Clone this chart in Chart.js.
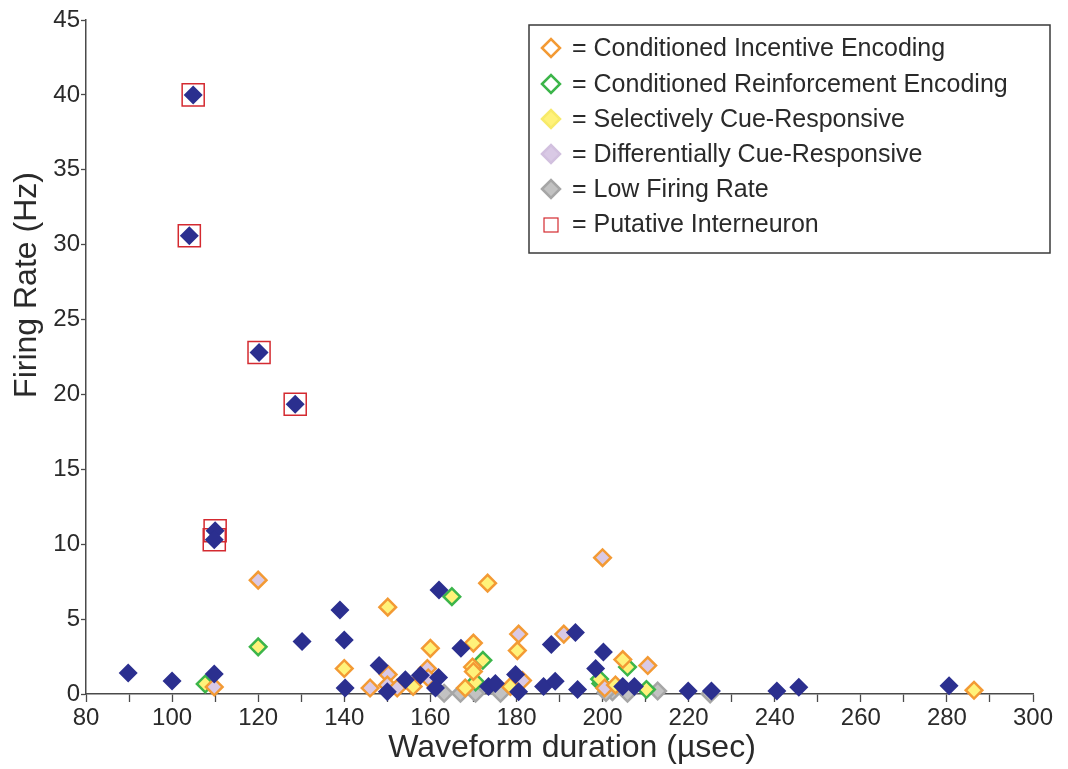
<!DOCTYPE html>
<html>
<head>
<meta charset="utf-8">
<script src="https://cdn.jsdelivr.net/npm/chart.js@4.4.1/dist/chart.umd.min.js"></script>
<style>
  html, body { margin: 0; padding: 0; background: #ffffff; }
  #wrap { width: 1068px; height: 769px; position: relative; }
</style>
</head>
<body>
<div id="wrap"><canvas id="c" width="1068" height="769"></canvas></div>
<script>
// ---- Data (waveform duration in µsec, firing rate in Hz) ----
const xTickValues = [80, 100, 120, 140, 160, 180, 200, 220, 240, 260, 280, 300];
const yTickValues = [0, 5, 10, 15, 20, 25, 30, 35, 40, 45];

// unclassified neurons (navy filled diamonds)
const otherX = [104.9, 104.0, 120.2, 128.6, 110.0, 109.8, 89.8, 100.0, 109.8, 130.2, 139.0, 140.0, 140.2, 148.1, 150.0, 154.2, 157.7, 161.9, 161.2, 162.0, 167.1, 173.5, 175.1, 179.8, 180.5, 186.3, 188.1, 189.0, 193.7, 194.2, 198.4, 200.2, 204.7, 207.4, 219.9, 225.3, 240.5, 245.6, 280.5];
const otherY = [40.0, 30.6, 22.8, 19.35, 10.9, 10.3, 1.4, 0.87, 1.33, 3.5, 5.6, 3.6, 0.4, 1.9, 0.15, 0.95, 1.25, 1.1, 0.4, 6.95, 3.05, 0.5, 0.7, 1.3, 0.15, 0.5, 3.3, 0.85, 4.1, 0.3, 1.7, 2.8, 0.5, 0.5, 0.2, 0.2, 0.2, 0.45, 0.55];

// conditioned incentive encoding (orange outline) + selectively cue-responsive (yellow fill)
const ciSelX = [150.1, 173.3, 140.0, 160.0, 156.0, 170.0, 180.2, 169.8, 170.0, 168.1, 178.6, 204.7, 203.0, 286.3];
const ciSelY = [5.8, 7.4, 1.7, 3.05, 0.5, 3.4, 2.9, 1.8, 1.5, 0.4, 0.5, 2.3, 0.6, 0.25];

// conditioned incentive encoding (orange outline) + differentially cue-responsive (lavender fill)
const ciDiffX = [120.0, 109.8, 146.0, 150.2, 150.0, 152.3, 159.3, 159.5, 180.5, 181.4, 191.0, 200.0, 210.5, 200.5];
const ciDiffY = [7.6, 0.47, 0.4, 1.3, 0.6, 0.4, 1.7, 1.07, 4.0, 0.9, 4.0, 9.1, 1.9, 0.4];

// conditioned reinforcement encoding (green outline) + selectively cue-responsive (yellow fill)
const crSelX = [107.7, 120.0, 165.0, 172.2, 170.5, 205.8, 210.2, 199.3];
const crSelY = [0.67, 3.15, 6.5, 2.25, 0.8, 1.8, 0.3, 1.0];

// conditioned reinforcement encoding (green outline) + differentially cue-responsive (lavender fill)
const crDiffX = [199.6];
const crDiffY = [0.7];

// low firing rate (grey)
const lowX = [163.2, 167.0, 170.5, 176.3, 202.3, 205.8, 212.8, 225.0, 200.8];
const lowY = [0.05, 0.05, 0.05, 0.05, 0.15, 0.05, 0.2, 0.0, 0.1];

// putative interneurons (red squares)
const interX = [104.9, 104.0, 120.2, 128.6, 110.0, 109.8];
const interY = [40.0, 30.6, 22.8, 19.35, 10.9, 10.3];

const legendLabels = [
  '= Conditioned Incentive Encoding',
  '= Conditioned Reinforcement Encoding',
  '= Selectively Cue-Responsive',
  '= Differentially Cue-Responsive',
  '= Low Firing Rate',
  '= Putative Interneuron'
];
const xTitle = 'Waveform duration (µsec)';
const yTitle = 'Firing Rate (Hz)';

// ---- Styles ----
const NAVY = '#2b2f8f';
const ORANGE = '#f39a34';
const GREEN = '#3cb54a';
const YELLOW = '#fff27a';
const LAVENDER = '#d9c9e5';
const GREY_FILL = '#c2c2c2';
const GREY_EDGE = '#a6a6a6';
const RED = '#d42a30';
const TEXT = '#2a2a2a';
const AXIS = '#4a4a4a';
const FONT = '"Liberation Sans", Arial, Helvetica, sans-serif';

function pts(xs, ys) { return xs.map((x, i) => ({ x: x, y: ys[i] })); }

function diamondSet(label, xs, ys, fill, edge, bw, r) {
  return {
    label: label,
    data: pts(xs, ys),
    pointStyle: 'rectRot',
    pointRadius: r,
    backgroundColor: fill,
    borderColor: edge,
    pointBorderWidth: bw,
    borderWidth: bw,
    showLine: false,
    clip: false
  };
}

const datasets = [
  diamondSet('other', otherX, otherY, NAVY, NAVY, 0, 9.5),
  diamondSet('ciSel', ciSelX, ciSelY, YELLOW, ORANGE, 2.5, 8.3),
  diamondSet('ciDiff', ciDiffX, ciDiffY, LAVENDER, ORANGE, 2.5, 8.3),
  diamondSet('crSel', crSelX, crSelY, YELLOW, GREEN, 2.5, 8.3),
  diamondSet('crDiff', crDiffX, crDiffY, LAVENDER, GREEN, 2.5, 8.3),
  diamondSet('low', lowX, lowY, GREY_FILL, GREY_EDGE, 2.5, 8.3),
  {
    label: 'inter',
    data: pts(interX, interY),
    pointStyle: 'rect',
    pointRadius: 15.6,
    backgroundColor: 'rgba(0,0,0,0)',
    borderColor: RED,
    pointBorderWidth: 1.5,
    borderWidth: 1.5,
    showLine: false,
    clip: false
  }
];

const overlayPlugin = {
  id: 'overlay',
  afterDraw(chart) {
    const ctx = chart.ctx;
    ctx.save();
    // axis titles
    ctx.fillStyle = TEXT;
    ctx.font = '32px ' + FONT;
    ctx.textAlign = 'center';
    ctx.textBaseline = 'middle';
    ctx.fillText(xTitle, 572, 748);
    ctx.save();
    ctx.translate(27, 285);
    ctx.rotate(-Math.PI / 2);
    ctx.fillText(yTitle, 0, 0);
    ctx.restore();

    // legend box
    const bx = 529, by = 25, bw = 521, bh = 228;
    ctx.fillStyle = '#ffffff';
    ctx.fillRect(bx, by, bw, bh);
    ctx.strokeStyle = '#3a3a3a';
    ctx.lineWidth = 1.5;
    ctx.strokeRect(bx, by, bw, bh);

    const rows = [48, 84, 119, 154, 189, 224];
    const mx = 551;
    const styles = [
      { fill: '#ffffff', edge: ORANGE },
      { fill: '#ffffff', edge: GREEN },
      { fill: YELLOW, edge: '#f7ea6a' },
      { fill: LAVENDER, edge: '#d2c0df' },
      { fill: GREY_FILL, edge: GREY_EDGE }
    ];
    for (let i = 0; i < 5; i++) {
      const y = rows[i], r = 9;
      ctx.beginPath();
      ctx.moveTo(mx - r, y);
      ctx.lineTo(mx, y - r);
      ctx.lineTo(mx + r, y);
      ctx.lineTo(mx, y + r);
      ctx.closePath();
      ctx.fillStyle = styles[i].fill;
      ctx.fill();
      ctx.lineWidth = 2.5;
      ctx.strokeStyle = styles[i].edge;
      ctx.stroke();
    }
    ctx.lineWidth = 1.2;
    ctx.strokeStyle = RED;
    ctx.strokeRect(mx - 7, rows[5] - 6, 14, 14);

    ctx.fillStyle = TEXT;
    ctx.font = '25px ' + FONT;
    ctx.textAlign = 'left';
    ctx.textBaseline = 'middle';
    legendLabels.forEach((t, i) => ctx.fillText(t, 572, rows[i] + 1));
    ctx.restore();
  }
};

new Chart(document.getElementById('c'), {
  type: 'scatter',
  data: { datasets: datasets },
  plugins: [overlayPlugin],
  options: {
    responsive: false,
    animation: false,
    events: [],
    layout: { padding: { top: 20, right: 35, left: 0, bottom: 0 } },
    plugins: { legend: { display: false }, tooltip: { enabled: false } },
    scales: {
      x: {
        type: 'linear',
        min: 80, max: 300,
        afterFit(s) { s.height = 75; },
        afterBuildTicks(s) {
          const t = [];
          for (let v = 80; v <= 300; v += 10) t.push({ value: v });
          s.ticks = t;
        },
        ticks: {
          color: TEXT,
          font: { family: FONT, size: 24 },
          padding: 2,
          maxRotation: 0,
          autoSkip: false,
          callback: (v) => xTickValues.includes(v) ? String(v) : ''
        },
        grid: { display: true, drawOnChartArea: false, drawTicks: true, tickLength: 8, color: AXIS, tickWidth: 1.3 },
        border: { display: true, color: AXIS, width: 1.5 }
      },
      y: {
        type: 'linear',
        min: 0, max: 45,
        afterFit(s) { s.width = 86; },
        afterBuildTicks(s) { s.ticks = yTickValues.map(v => ({ value: v })); },
        ticks: {
          color: TEXT,
          font: { family: FONT, size: 24 },
          padding: 1,
          autoSkip: false,
          callback: (v) => String(v)
        },
        grid: { display: true, drawOnChartArea: false, drawTicks: true, tickLength: 5, color: AXIS, tickWidth: 1.3 },
        border: { display: true, color: AXIS, width: 1.5 }
      }
    }
  }
});
</script>
</body>
</html>
